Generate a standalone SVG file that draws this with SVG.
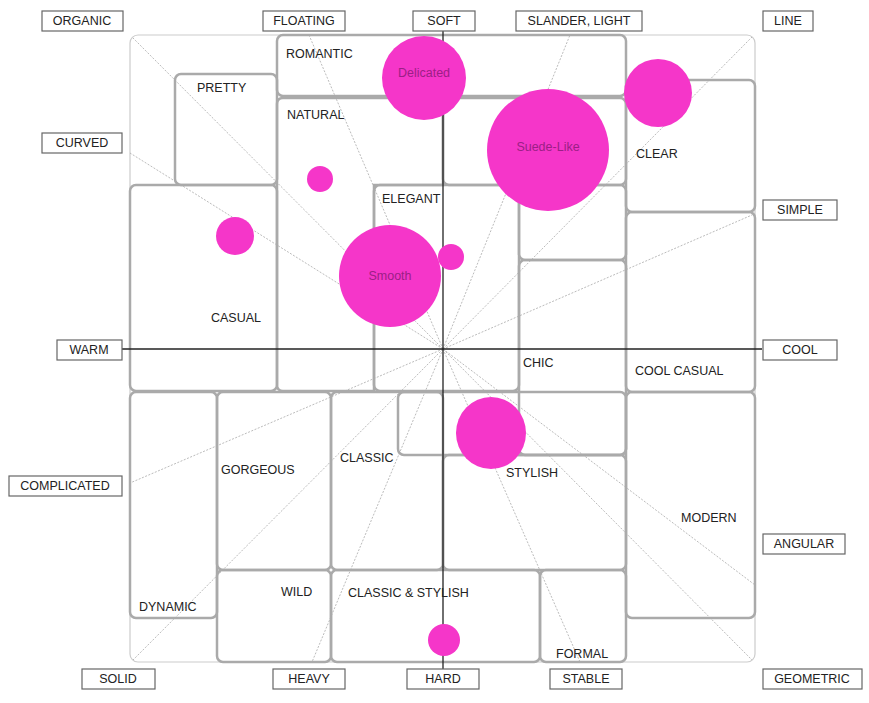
<svg xmlns="http://www.w3.org/2000/svg" width="869" height="703" viewBox="0 0 869 703">
<style>
.bx{fill:none;stroke:#aaa;stroke-width:2.5}
.ray{stroke:#aaa;stroke-width:0.8;stroke-dasharray:2 1.5;fill:none}
.ax{stroke:#222;stroke-width:1.3}
.t{font-family:"Liberation Sans",Arial,sans-serif;font-size:12.5px;fill:#222}
.lb{fill:#fff;stroke:#666;stroke-width:1.2}
.c{fill:#f536c9}
.ct{font-family:"Liberation Sans",Arial,sans-serif;font-size:12.5px;fill:#9b1f86;text-anchor:middle}
.m{text-anchor:middle}
</style>
<rect width="869" height="703" fill="#fff"/>
<rect x="130" y="35" width="625" height="627" rx="8" fill="none" stroke="#ccc" stroke-width="1.2"/>
<g id="connectors">
<line class="ray" x1="443" y1="349" x2="133" y2="38"/>
<line class="ray" x1="443" y1="349" x2="130" y2="153"/>
<line class="ray" x1="443" y1="349" x2="309" y2="35"/>
<line class="ray" x1="443" y1="349" x2="570" y2="35"/>
<line class="ray" x1="443" y1="349" x2="752" y2="37"/>
<line class="ray" x1="443" y1="349" x2="752" y2="215"/>
<line class="ray" x1="443" y1="349" x2="130" y2="483"/>
<line class="ray" x1="443" y1="349" x2="133" y2="660"/>
<line class="ray" x1="443" y1="349" x2="312" y2="662"/>
<line class="ray" x1="443" y1="349" x2="580" y2="662"/>
<line class="ray" x1="443" y1="349" x2="752" y2="660"/>
<line class="ray" x1="443" y1="349" x2="755" y2="585"/>
</g>
<g id="boxes">
<rect class="bx" x="277" y="35" width="349" height="61" rx="6"/>
<rect class="bx" x="175" y="74" width="102" height="111" rx="6"/>
<path class="bx" d="M283 98 H437 Q443 98 443 104 V185 H374 V391 H283 Q277 391 277 385 V104 Q277 98 283 98 Z"/>
<rect class="bx" x="443" y="98" width="183" height="87" rx="6"/>
<rect class="bx" x="374" y="185" width="145" height="206" rx="6"/>
<rect class="bx" x="519" y="185" width="107" height="75" rx="6"/>
<rect class="bx" x="519" y="260" width="107" height="195" rx="6"/>
<rect class="bx" x="398" y="392" width="228" height="63" rx="6"/>
<rect class="bx" x="626" y="80" width="129" height="132" rx="6"/>
<rect class="bx" x="626" y="212" width="129" height="180" rx="6"/>
<rect class="bx" x="626" y="392" width="129" height="226" rx="6"/>
<rect class="bx" x="130" y="185" width="147" height="206" rx="6"/>
<rect class="bx" x="130" y="392" width="87" height="226" rx="6"/>
<rect class="bx" x="217" y="392" width="114" height="178" rx="6"/>
<rect class="bx" x="331" y="392" width="112" height="178" rx="6"/>
<rect class="bx" x="443" y="455" width="183" height="115" rx="6"/>
<rect class="bx" x="217" y="570" width="114" height="92" rx="6"/>
<rect class="bx" x="331" y="570" width="209" height="92" rx="6"/>
<rect class="bx" x="540" y="570" width="86" height="92" rx="6"/>
</g>
<g id="axes">
<line class="ax" x1="112" y1="349" x2="762" y2="349"/>
<line class="ax" x1="443" y1="28" x2="443" y2="670"/>
</g>
<g id="regionlabels">
<text class="t" x="286" y="58">ROMANTIC</text>
<text class="t" x="197" y="92">PRETTY</text>
<text class="t" x="287" y="119">NATURAL</text>
<text class="t" x="382" y="203">ELEGANT</text>
<text class="t" x="636" y="158">CLEAR</text>
<text class="t" x="211" y="322">CASUAL</text>
<text class="t" x="523" y="367">CHIC</text>
<text class="t" x="635" y="375">COOL CASUAL</text>
<text class="t" x="340" y="462">CLASSIC</text>
<text class="t" x="221" y="474">GORGEOUS</text>
<text class="t" x="506" y="477">STYLISH</text>
<text class="t" x="681" y="522">MODERN</text>
<text class="t" x="281" y="596">WILD</text>
<text class="t" x="348" y="597">CLASSIC &amp; STYLISH</text>
<text class="t" x="139" y="611">DYNAMIC</text>
<text class="t" x="556" y="658">FORMAL</text>
</g>
<g id="circles">
<circle class="c" cx="424" cy="78" r="42"/>
<circle class="c" cx="548" cy="150" r="61"/>
<circle class="c" cx="658" cy="93" r="34"/>
<circle class="c" cx="320" cy="179" r="13"/>
<circle class="c" cx="235" cy="236" r="19"/>
<circle class="c" cx="390" cy="276" r="51"/>
<circle class="c" cx="451" cy="257" r="13"/>
<ellipse class="c" cx="491" cy="433" rx="35" ry="36"/>
<circle class="c" cx="444" cy="640" r="16"/>
<text class="ct" x="424" y="77">Delicated</text>
<text class="ct" x="548" y="151">Suede-Like</text>
<text class="ct" x="390" y="280">Smooth</text>
</g>
<g id="axislabels">
<g id="l-organic"><rect class="lb" x="42" y="11" width="81" height="20"/><text class="t m" x="82" y="25">ORGANIC</text></g>
<g id="l-floating"><rect class="lb" x="263" y="11" width="82" height="20"/><text class="t m" x="304" y="25">FLOATING</text></g>
<g id="l-soft"><rect class="lb" x="413" y="11" width="62" height="20"/><text class="t m" x="444" y="25">SOFT</text></g>
<g id="l-slander"><rect class="lb" x="516" y="11" width="126" height="20"/><text class="t m" x="579" y="25">SLANDER, LIGHT</text></g>
<g id="l-line"><rect class="lb" x="763" y="11" width="50" height="20"/><text class="t m" x="788" y="25">LINE</text></g>
<g id="l-curved"><rect class="lb" x="42" y="133" width="80" height="20"/><text class="t m" x="82" y="147">CURVED</text></g>
<g id="l-simple"><rect class="lb" x="763" y="200" width="74" height="20"/><text class="t m" x="800" y="214">SIMPLE</text></g>
<g id="l-warm"><rect class="lb" x="57" y="340" width="65" height="20"/><text class="t m" x="89" y="354">WARM</text></g>
<g id="l-cool"><rect class="lb" x="763" y="340" width="74" height="20"/><text class="t m" x="800" y="354">COOL</text></g>
<g id="l-complicated"><rect class="lb" x="9" y="476" width="113" height="20"/><text class="t m" x="65" y="490">COMPLICATED</text></g>
<g id="l-angular"><rect class="lb" x="763" y="534" width="82" height="20"/><text class="t m" x="804" y="548">ANGULAR</text></g>
<g id="l-solid"><rect class="lb" x="82" y="669" width="73" height="20"/><text class="t m" x="118" y="683">SOLID</text></g>
<g id="l-heavy"><rect class="lb" x="273" y="669" width="72" height="20"/><text class="t m" x="309" y="683">HEAVY</text></g>
<g id="l-hard"><rect class="lb" x="407" y="669" width="72" height="20"/><text class="t m" x="443" y="683">HARD</text></g>
<g id="l-stable"><rect class="lb" x="550" y="669" width="72" height="20"/><text class="t m" x="586" y="683">STABLE</text></g>
<g id="l-geometric"><rect class="lb" x="763" y="669" width="99" height="20"/><text class="t m" x="812" y="683">GEOMETRIC</text></g>
</g>
</svg>
